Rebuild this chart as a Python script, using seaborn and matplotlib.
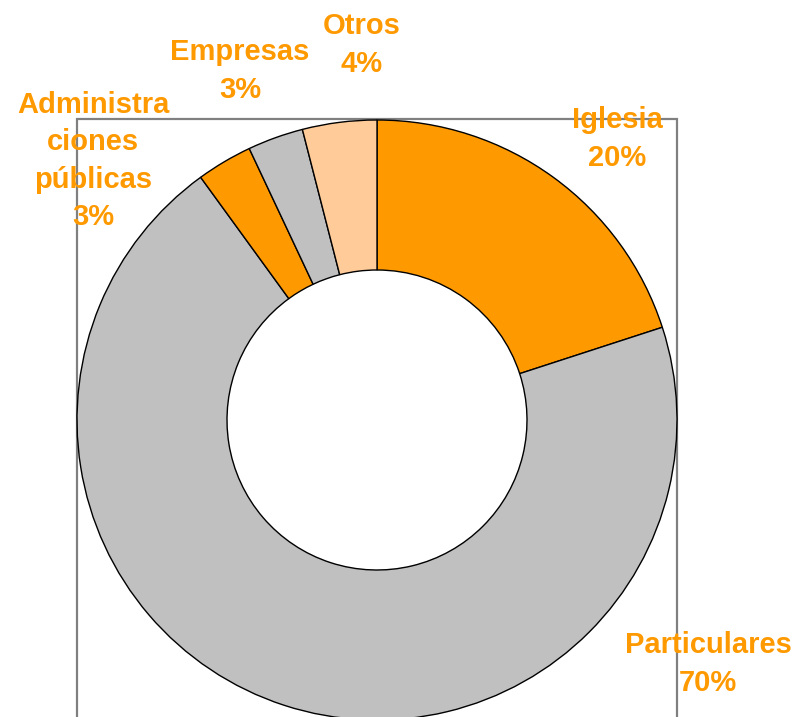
import matplotlib
matplotlib.use("Agg")
import matplotlib.pyplot as plt
import seaborn as sns
from matplotlib.patches import Rectangle

sns.set_theme(style="white")
plt.rcParams['font.family'] = ['Liberation Sans', 'DejaVu Sans']

categories = ["Iglesia", "Particulares", "Administraciones públicas", "Empresas", "Otros"]
values = [20, 70, 3, 3, 4]
label_names = ["Iglesia", "Particulares", "Administra\nciones\npúblicas", "Empresas", "Otros"]
colors = ["#FF9900", "#C0C0C0", "#FF9900", "#C0C0C0", "#FFCC99"]

W, H = 795, 717
fig = plt.figure(figsize=(W / 100, H / 100), dpi=100)
ax = fig.add_axes([0, 0, 1, 1])
ax.set_xlim(0, W)
ax.set_ylim(0, H)
ax.set_aspect('equal')
ax.axis('off')

# plot-area frame
ax.add_patch(Rectangle((77, -50), 600, H - 119 + 50, fill=False,
                       edgecolor="#808080", linewidth=1.6, zorder=0))

cx, cy, R = 377, H - 420, 300
ax.pie(values, colors=colors, startangle=90, counterclock=False,
       center=(cx, cy), radius=R, frame=True,
       wedgeprops=dict(width=150, edgecolor="black", linewidth=1.0))
ax.set_xlim(0, W)
ax.set_ylim(0, H)
ax.axis('off')

# label positions (pixel centres of text blocks)
label_pos = [(617, 139), (708, 664), (93, 161), (240, 71), (362, 45)]
for name, val, (x, y) in zip(label_names, values, label_pos):
    ax.text(x, H - y, f"{name}\n{val}%", ha="center", va="center",
            color="#FF9900", fontsize=21, fontweight="bold",
            linespacing=1.42)

fig.savefig("out.png", dpi=100)
